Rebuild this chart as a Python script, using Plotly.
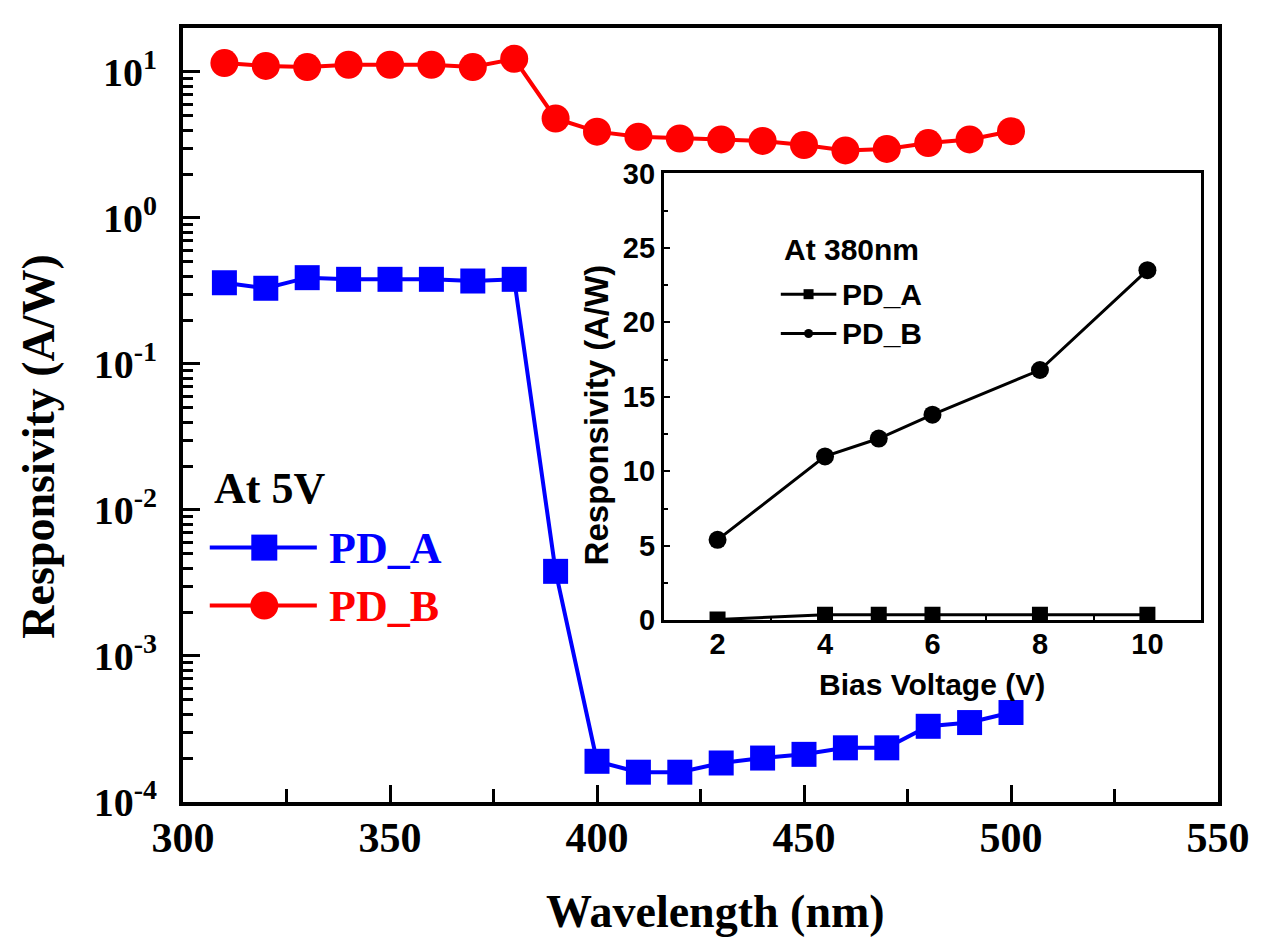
import plotly.graph_objects as go

# ---- data: main plot (at 5 V) ----
wavelength = [310, 320, 330, 340, 350, 360, 370, 380, 390, 400,
              410, 420, 430, 440, 450, 460, 470, 480, 490, 500]
pd_a = [0.36, 0.33, 0.39, 0.38, 0.38, 0.38, 0.37, 0.38, 3.8e-3, 1.9e-4,
        1.6e-4, 1.6e-4, 1.85e-4, 2.0e-4, 2.12e-4, 2.35e-4, 2.35e-4, 3.3e-4, 3.5e-4, 4.1e-4]
pd_b = [11.5, 11.0, 10.8, 11.2, 11.2, 11.2, 10.8, 12.3, 4.8, 3.9,
        3.6, 3.5, 3.45, 3.37, 3.16, 2.9, 2.97, 3.26, 3.45, 3.93]

# ---- data: inset (at 380 nm) ----
bias = [2, 4, 5, 6, 8, 10]
inset_a = [0.05, 0.38, 0.38, 0.38, 0.38, 0.38]
inset_b = [5.4, 11.0, 12.2, 13.8, 16.8, 23.5]

# tick labels
y_tickvals = [1e-4, 1e-3, 1e-2, 1e-1, 1, 10]
y_ticktext = ["10<sup>-4</sup>", "10<sup>-3</sup>", "10<sup>-2</sup>",
              "10<sup>-1</sup>", "10<sup>0</sup>", "10<sup>1</sup>"]
y_minor = [k * 10.0 ** e for e in range(-4, 2) for k in range(2, 10)]

W, H = 1262, 941
L, R, T, B = 183, 1227, 14, 802


def px(x):
    return (x - L) / (R - L)


def py(y):
    return (B - y) / (B - T)


SERIF = "Liberation Serif, Times New Roman, serif"
SANS = "Liberation Sans, Arial, sans-serif"

fig = go.Figure()
fig.add_trace(go.Scatter(x=wavelength, y=pd_a, mode="lines+markers", name="PD_A",
                         line=dict(color="#0000ff", width=4),
                         marker=dict(symbol="square", size=25, color="#0000ff"),
                         showlegend=False, cliponaxis=False))
fig.add_trace(go.Scatter(x=wavelength, y=pd_b, mode="lines+markers", name="PD_B",
                         line=dict(color="#ff0000", width=4),
                         marker=dict(symbol="circle", size=28, color="#ff0000"),
                         showlegend=False, cliponaxis=False))
fig.add_trace(go.Scatter(x=bias, y=inset_a, mode="lines+markers", name="PD_A",
                         xaxis="x2", yaxis="y2",
                         line=dict(color="black", width=3),
                         marker=dict(symbol="square", size=16, color="black"),
                         showlegend=False))
fig.add_trace(go.Scatter(x=bias, y=inset_b, mode="lines+markers", name="PD_B",
                         xaxis="x2", yaxis="y2",
                         line=dict(color="black", width=3),
                         marker=dict(symbol="circle", size=18, color="black"),
                         showlegend=False, cliponaxis=False))

axis_common = dict(showgrid=False, zeroline=False, showline=True, linecolor="black",
                   mirror=True, ticks="inside", tickcolor="black")

fig.update_layout(
    width=W, height=H,
    margin=dict(l=L, r=W - R, t=T, b=H - B),
    paper_bgcolor="white", plot_bgcolor="white",
    xaxis=dict(**axis_common, range=[300, 550], tickvals=[300, 350, 400, 450, 500, 550],
               linewidth=4, ticklen=17, tickwidth=3,
               minor=dict(tickvals=[325, 375, 425, 475, 525], ticks="inside",
                          ticklen=13, tickwidth=3, tickcolor="black"),
               tickfont=dict(family=SERIF, size=42, color="black", weight="bold"),
               ticklabelstandoff=-4),
    yaxis=dict(**axis_common, type="log", range=[-4, 1.30103],
               tickvals=y_tickvals, ticktext=y_ticktext,
               linewidth=4, ticklen=17, tickwidth=3,
               minor=dict(tickvals=y_minor, ticks="inside", ticklen=10,
                          tickwidth=3, tickcolor="black"),
               tickfont=dict(family=SERIF, size=40, color="black", weight="bold"),
               ticklabelstandoff=14),
    xaxis2=dict(**axis_common, domain=[px(668), px(1210)], anchor="y2",
                range=[1, 11], tickvals=[2, 4, 6, 8, 10],
                linewidth=3, ticklen=6, tickwidth=2,
                minor=dict(tickvals=[3, 5, 7, 9], ticks="inside", ticklen=4,
                           tickwidth=2, tickcolor="black"),
                tickfont=dict(family=SANS, size=29, color="black", weight="bold"),
                ticklabelstandoff=-4),
    yaxis2=dict(**axis_common, domain=[py(617), py(162)], anchor="x2",
                range=[0, 30], tickvals=[0, 5, 10, 15, 20, 25, 30],
                linewidth=3, ticklen=6, tickwidth=2,
                minor=dict(tickvals=[2.5, 7.5, 12.5, 17.5, 22.5, 27.5], ticks="inside",
                           ticklen=4, tickwidth=2, tickcolor="black"),
                tickfont=dict(family=SANS, size=29, color="black", weight="bold"),
                ticklabelstandoff=0),
)

ann = []
# axis titles
ann.append(dict(text="Wavelength (nm)", x=px(720), y=py(913), xref="paper", yref="paper",
                showarrow=False, xanchor="center", yanchor="middle",
                font=dict(family=SERIF, size=46, color="black", weight="bold")))
ann.append(dict(text="Responsivity (A/W)", x=px(37), y=py(440), xref="paper", yref="paper",
                showarrow=False, xanchor="center", yanchor="middle", textangle=-90,
                font=dict(family=SERIF, size=46, color="black", weight="bold")))
ann.append(dict(text="Bias Voltage (V)", x=px(939), y=py(682), xref="paper", yref="paper",
                showarrow=False, xanchor="center", yanchor="middle",
                font=dict(family=SANS, size=30, color="black", weight="bold")))
ann.append(dict(text="Responsivity (A/W)", x=px(600), y=py(408), xref="paper", yref="paper",
                showarrow=False, xanchor="center", yanchor="middle", textangle=-90,
                font=dict(family=SANS, size=33, color="black", weight="bold")))
# main legend
ann.append(dict(text="At 5V", x=px(212), y=py(483), xref="paper", yref="paper",
                showarrow=False, xanchor="left", yanchor="middle",
                font=dict(family=SERIF, size=44, color="black", weight="bold")))
ann.append(dict(text="PD_A", x=px(328), y=py(544), xref="paper", yref="paper",
                showarrow=False, xanchor="left", yanchor="middle",
                font=dict(family=SERIF, size=44, color="#0000ff", weight="bold")))
ann.append(dict(text="PD_B", x=px(328), y=py(603), xref="paper", yref="paper",
                showarrow=False, xanchor="left", yanchor="middle",
                font=dict(family=SERIF, size=44, color="#ff0000", weight="bold")))
# inset legend
ann.append(dict(text="At 380nm", x=px(787), y=py(239), xref="paper", yref="paper",
                showarrow=False, xanchor="left", yanchor="middle",
                font=dict(family=SANS, size=30, color="black", weight="bold")))
ann.append(dict(text="PD_A", x=px(846), y=py(285), xref="paper", yref="paper",
                showarrow=False, xanchor="left", yanchor="middle",
                font=dict(family=SANS, size=30, color="black", weight="bold")))
ann.append(dict(text="PD_B", x=px(846), y=py(325), xref="paper", yref="paper",
                showarrow=False, xanchor="left", yanchor="middle",
                font=dict(family=SANS, size=30, color="black", weight="bold")))
fig.update_layout(annotations=ann)

shapes = []
# main legend keys
for yy, col, kind, sz in [(543, "#0000ff", "rect", 13), (602, "#ff0000", "circle", 14)]:
    shapes.append(dict(type="line", xref="paper", yref="paper", x0=px(210), x1=px(318),
                       y0=py(yy), y1=py(yy), line=dict(color=col, width=4)))
    shapes.append(dict(type=kind, xref="paper", yref="paper", xsizemode="pixel",
                       ysizemode="pixel", xanchor=px(265), yanchor=py(yy),
                       x0=-sz, x1=sz, y0=-sz, y1=sz, fillcolor=col, line=dict(width=0)))
# inset legend keys
for yy, kind, sz in [(285, "rect", 5), (325, "circle", 4.5)]:
    shapes.append(dict(type="line", xref="paper", yref="paper", x0=px(786), x1=px(842),
                       y0=py(yy), y1=py(yy), line=dict(color="black", width=3)))
    shapes.append(dict(type=kind, xref="paper", yref="paper", xsizemode="pixel",
                       ysizemode="pixel", xanchor=px(814), yanchor=py(yy),
                       x0=-sz, x1=sz, y0=-sz, y1=sz, fillcolor="black", line=dict(width=0)))
fig.update_layout(shapes=shapes)

fig.write_html("out.html")
